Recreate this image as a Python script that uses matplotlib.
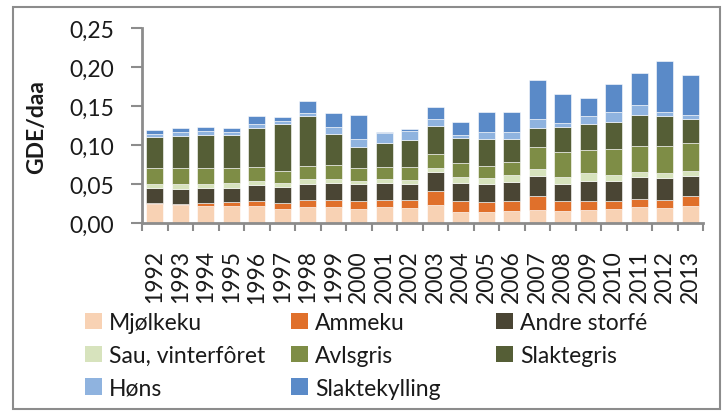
import numpy as np
import matplotlib
matplotlib.use("Agg")
import matplotlib.pyplot as plt
from matplotlib.patches import Rectangle, Patch
from matplotlib.ticker import FuncFormatter, MultipleLocator

years = [str(y) for y in range(1992, 2014)]

# cumulative tops, converted to segment heights below
top_mjolkeku = [0.0246, 0.0233, 0.0224, 0.0212, 0.0216, 0.0182, 0.0207, 0.0199, 0.0182, 0.0203, 0.0186,
                0.0237, 0.0147, 0.0135, 0.0156, 0.0173, 0.0160, 0.0173, 0.0177, 0.0199, 0.0195, 0.0216]
top_ammeku = [0.0254, 0.0240, 0.0254, 0.0263, 0.0284, 0.0259, 0.0293, 0.0301, 0.0284, 0.0293, 0.0293,
              0.0413, 0.0284, 0.0267, 0.0288, 0.0340, 0.0288, 0.0280, 0.0276, 0.0310, 0.0301, 0.0340]
top_andre = [0.0446, 0.0438, 0.0451, 0.0455, 0.0485, 0.0464, 0.0506, 0.0519, 0.0498, 0.0510, 0.0498,
             0.0652, 0.0515, 0.0498, 0.0524, 0.0600, 0.0506, 0.0536, 0.0536, 0.0588, 0.0579, 0.0600]
top_sau = [0.0506, 0.0494, 0.0506, 0.0510, 0.0536, 0.0510, 0.0562, 0.0567, 0.0541, 0.0558, 0.0545,
           0.0703, 0.0592, 0.0571, 0.0613, 0.0686, 0.0588, 0.0635, 0.0618, 0.0660, 0.0643, 0.0673]
top_avlsgris = [0.0707, 0.0699, 0.0699, 0.0707, 0.0712, 0.0673, 0.0737, 0.0750, 0.0699, 0.0724, 0.0724,
                0.0891, 0.0767, 0.0737, 0.0780, 0.0977, 0.0904, 0.0933, 0.0946, 0.0990, 0.0981, 0.1032]
top_slaktegris = [0.1100, 0.1113, 0.1126, 0.1126, 0.1216, 0.1267, 0.1370, 0.1143, 0.0972, 0.1032, 0.1058,
                  0.1250, 0.1088, 0.1075, 0.1075, 0.1216, 0.1233, 0.1271, 0.1297, 0.1391, 0.1370, 0.1327]
top_hons = [0.1135, 0.1164, 0.1177, 0.1173, 0.1271, 0.1306, 0.1408, 0.1234, 0.1083, 0.1156, 0.1177,
            0.1327, 0.1122, 0.1164, 0.1169, 0.1327, 0.1288, 0.1378, 0.1417, 0.1510, 0.1429, 0.1391]
top_kylling = [0.1186, 0.1215, 0.1237, 0.1220, 0.1378, 0.1365, 0.1567, 0.1413, 0.1382, 0.1164, 0.1208,
               0.1490, 0.1301, 0.1417, 0.1417, 0.1835, 0.1652, 0.1600, 0.1785, 0.1917, 0.2075, 0.1895]

labels = ["Mjølkeku", "Ammeku", "Andre storfé", "Sau, vinterfôret",
          "Avlsgris", "Slaktegris", "Høns", "Slaktekylling"]
colors = ["#F8D2B4", "#E0702B", "#4A4534", "#D7E3BD",
          "#7E8D46", "#555E36", "#8FB3DF", "#5A8AC8"]

tops = np.array([top_mjolkeku, top_ammeku, top_andre, top_sau,
                 top_avlsgris, top_slaktegris, top_hons, top_kylling])
heights = np.diff(np.vstack([np.zeros(len(years)), tops]), axis=0)

plt.rcParams['font.family'] = ['Lato', 'DejaVu Sans']
fs = 16.5
txt = "#1a1a1a"

fig = plt.figure(figsize=(7.24, 4.14), dpi=100)
ax = fig.add_axes([142 / 724, 1 - 224 / 414, (703 - 142) / 724, (224 - 29) / 414])

x = np.arange(len(years))
bottom = np.zeros(len(years))
handles = []
for h, lab, col in zip(heights, labels, colors):
    ax.bar(x, h, bottom=bottom, width=0.67, color=col, edgecolor="white", linewidth=0.4)
    bottom += h
    handles.append(Patch(facecolor=col, label=lab))

ax.set_xlim(-0.5, len(years) - 0.5)
ax.set_ylim(0, 0.25)
ax.yaxis.set_major_locator(MultipleLocator(0.05))
ax.yaxis.set_major_formatter(FuncFormatter(lambda v, p: f"{v:.2f}".replace(".", ",")))
ax.set_xticks(x)
ax.set_xticklabels(years, rotation=90)
ax.set_xticks(np.arange(-0.5, len(years)), minor=True)
ax.tick_params(axis="x", which="major", length=0, pad=19, labelsize=fs, colors=txt)
ax.tick_params(axis="x", which="minor", length=6, width=1.5, color="#8c8c8c")
ax.tick_params(axis="y", length=8, width=1.5, color="#8c8c8c", labelsize=fs, labelcolor=txt, pad=12)

for s in ["top", "right"]:
    ax.spines[s].set_visible(False)
for s in ["left", "bottom"]:
    ax.spines[s].set_color("#8c8c8c")
    ax.spines[s].set_linewidth(2)

fig.text(37 / 724, 1 - 127 / 414, "GDE/daa", rotation=90, fontsize=fs, fontweight="bold",
         ha="center", va="center", color=txt)

# legend: three columns, filled row by row
col_x = [85, 291, 496]
for c in range(3):
    hs = handles[c::3]
    fig.legend(handles=hs, loc="upper left", bbox_to_anchor=(col_x[c] / 724, 1 - 313 / 414),
               frameon=False, fontsize=fs, handlelength=0.75, handleheight=0.75,
               handletextpad=0.3, labelspacing=0.52, borderpad=0, borderaxespad=0,
               labelcolor=txt)

fig.patches.append(Rectangle((13 / 724, 4 / 414), (720 - 13) / 724, (406 - 4) / 414,
                             transform=fig.transFigure, fill=False, edgecolor="#8c8c8c", linewidth=1.5))

fig.savefig("out.png", dpi=100)
